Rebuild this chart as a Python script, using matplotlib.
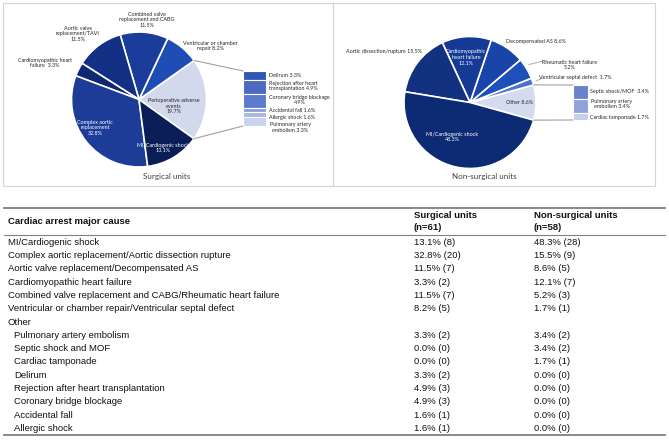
import matplotlib
matplotlib.use("Agg")
import matplotlib.pyplot as plt
from matplotlib.patches import ConnectionPatch, Rectangle
import numpy as np

W, H = 669, 442

# ---- surgical units pie (counterclockwise, starting with the "other" slice)
surg_names = ["Perioperative adverse\nevents\n", "Ventricular or chamber\nrepair ",
              "Combined valve\nreplacement and CABG\n", "Aortic valve\nreplacement/TAVI\n",
              "Cardiomyopathic heart\nfailure  ", "Complex aortic\nreplacement\n",
              "MI/Cardiogenic shock\n"]
surg_values = [19.7, 8.2, 11.5, 11.5, 3.3, 32.8, 13.1]
surg_colors = ["#d3d9ec", "#1f4db6", "#1a3d9c", "#132f86", "#0e2872", "#1c3c97", "#0a1d57"]

surg_other_names = ["Delirum ", "Rejection after heart\ntransplantation ",
                    "Coronary bridge blockage\n", "Accidental fall ", "Allergic shock ",
                    "Pulmonary artery\nembolism "]
surg_other_values = [3.3, 4.9, 4.9, 1.6, 1.6, 3.3]
surg_other_colors = ["#3157b3", "#4b6bc2", "#5c7bca", "#8a9fd8", "#a9b8e2", "#c9d3ee"]

# ---- non-surgical units pie
nons_names = ["Other ", "Ventricular septal defect  ", "Rheumatic heart failure\n",
              "Decompensated AS ", "Cardiomyopathic\nheart failure\n",
              "Aortic dissection/rupture ", "MI/Cardiogenic shock\n"]
nons_values = [8.6, 1.7, 5.2, 8.6, 12.1, 15.5, 48.3]
nons_colors = ["#d5dbee", "#4e73cb", "#1e50bc", "#1944a8", "#153a96", "#12317f", "#0d2b74"]

nons_other_names = ["Septic shock/MOF  ", "Pulmonary artery\nembolism ", "Cardiac tamponade "]
nons_other_values = [3.4, 3.4, 1.7]
nons_other_colors = ["#6683cc", "#8fa3da", "#c4cfec"]

# ---- table
causes = ["MI/Cardiogenic shock",
          "Complex aortic replacement/Aortic dissection rupture",
          "Aortic valve replacement/Decompensated AS",
          "Cardiomyopathic heart failure",
          "Combined valve replacement and CABG/Rheumatic heart failure",
          "Ventricular or chamber repair/Ventricular septal defect",
          "Other",
          "Pulmonary artery embolism", "Septic shock and MOF", "Cardiac tamponade",
          "Delirum", "Rejection after heart transplantation", "Coronary bridge blockage",
          "Accidental fall", "Allergic shock"]
surg_pct = [13.1, 32.8, 11.5, 3.3, 11.5, 8.2, None, 3.3, 0.0, 0.0, 3.3, 4.9, 4.9, 1.6, 1.6]
surg_n = [8, 20, 7, 2, 7, 5, None, 2, 0, 0, 2, 3, 3, 1, 1]
nons_pct = [48.3, 15.5, 8.6, 12.1, 5.2, 1.7, None, 3.4, 3.4, 1.7, 0.0, 0.0, 0.0, 0.0, 0.0]
nons_n = [28, 9, 5, 7, 3, 1, None, 2, 2, 1, 0, 0, 0, 0, 0]

fig = plt.figure(figsize=(W / 100, H / 100), dpi=100)
bg = fig.add_axes([0, 0, 1, 1])
bg.set_xlim(0, W)
bg.set_ylim(H, 0)
bg.axis("off")


def px_axes(x0, y0, x1, y1):
    return fig.add_axes([x0 / W, 1 - y1 / H, (x1 - x0) / W, (y1 - y0) / H])


def pie_of_bar(center, r, values, colors, start, bar_box, bar_values, bar_colors):
    cx, cy = center
    pax = px_axes(cx - r, cy - r, cx + r, cy + r)
    wedges, _ = pax.pie(values, colors=colors, startangle=start,
                        wedgeprops=dict(edgecolor="white", linewidth=1.2))
    pax.set_xlim(-1, 1)
    pax.set_ylim(-1, 1)
    pax.axis("off")
    for w in wedges:
        w.set_clip_on(False)
    bax = px_axes(*bar_box)
    bottoms = np.concatenate([[0], np.cumsum(bar_values)[:-1]])
    bax.bar(np.zeros(len(bar_values)), bar_values, bottom=bottoms, width=1,
            color=bar_colors, edgecolor="white", linewidth=0.8)
    bax.set_xlim(-0.5, 0.5)
    bax.set_ylim(sum(bar_values), 0)
    bax.axis("off")
    w0 = wedges[0]
    for ang, yb in [(w0.theta2, 0), (w0.theta1, sum(bar_values))]:
        a = np.radians(ang)
        con = ConnectionPatch(xyA=(np.cos(a), np.sin(a)), coordsA=pax.transData,
                              xyB=(-0.5, yb), coordsB=bax.transData,
                              color="#a0a0a0", linewidth=0.8)
        fig.add_artist(con)


# panel frames
bg.add_patch(Rectangle((3, 3), 330, 183, fill=False, edgecolor="#d4d4d4", linewidth=0.8))
bg.add_patch(Rectangle((333, 3), 322, 183, fill=False, edgecolor="#d4d4d4", linewidth=0.8))

pie_of_bar((139, 99.5), 67.5, surg_values, surg_colors, -35.5,
           (243, 71, 266, 126), surg_other_values, surg_other_colors)
pie_of_bar((470, 102.5), 66, nons_values, nons_colors, -15.5,
           (573, 85, 588, 120), nons_other_values, nons_other_colors)

# overlay for the chart labels, drawn above the pies
top = fig.add_axes([0, 0, 1, 1])
top.set_xlim(0, W)
top.set_ylim(H, 0)
top.axis("off")
top.patch.set_alpha(0)

pf = dict(family="Lato", fontsize=3.9, linespacing=1.15)
dark = "#262626"

# surgical pie labels
surg_pos = [(174, 106), (210, 46), (147, 20), (78, 34), (45, 63), (95, 128), (163, 148)]
surg_txt = ["k", "k", "k", "k", "k", "w", "w"]
for name, v, (x, y), c in zip(surg_names, surg_values, surg_pos, surg_txt):
    top.text(x, y, f"{name}{v}%", ha="center", va="center", multialignment="center",
             color="white" if c == "w" else dark, **pf)

surg_bar_pos = [(269, 75.5), (269, 86), (269, 100), (269, 110.5), (269, 117), (270, 127.5)]
for i, (name, v, (x, y)) in enumerate(zip(surg_other_names, surg_other_values, surg_bar_pos)):
    ma = "center" if i in (2, 5) else "left"
    top.text(x, y, f"{name}{v}%", ha="left", va="center", multialignment=ma, color=dark, **pf)

# non-surgical pie labels
nons_pos = [(519, 102), (575, 77), (570, 65), (536, 42), (466, 57.5), (384, 51), (452, 137)]
nons_txt = ["k", "k", "k", "k", "w", "k", "w"]
for name, v, (x, y), c in zip(nons_names, nons_values, nons_pos, nons_txt):
    top.text(x, y, f"{name}{v}%", ha="center", va="center", multialignment="center",
             color="white" if c == "w" else dark, **pf)
top.plot([529, 543], [64.5, 61], color="#a0a0a0", linewidth=0.6)
top.plot([536, 543], [81, 78], color="#a0a0a0", linewidth=0.6)

nons_bar_pos = [(590, 91.5), (591, 104), (590, 117.5)]
for i, (name, v, (x, y)) in enumerate(zip(nons_other_names, nons_other_values, nons_bar_pos)):
    top.text(x, y, f"{name}{v}%", ha="left", va="center",
             multialignment="center", color=dark, **pf)

tf = dict(family="Lato", fontsize=5.8, color="#404040")
top.text(167, 177, "Surgical units", ha="center", va="center", **tf)
top.text(484, 177, "Non-surgical units", ha="center", va="center", **tf)

# ---- table
lf = dict(family=["Liberation Sans", "DejaVu Sans"], fontsize=6.8, color="#111111")
bg.plot([4, 665], [207.7, 207.7], color="#808080", linewidth=1.3)
bg.plot([4, 665], [235, 235], color="#808080", linewidth=0.8)
bg.plot([4, 665], [434.5, 434.5], color="#808080", linewidth=1.3)

bg.text(8, 221.7, "Cardiac arrest major cause", ha="left", va="center", weight="bold", **lf)
bg.text(414, 215, "Surgical units", ha="left", va="center", weight="bold", **lf)
bg.text(414, 227.7, "(n=61)", ha="left", va="center", weight="bold", **lf)
bg.text(534, 215, "Non-surgical units", ha="left", va="center", weight="bold", **lf)
bg.text(534, 227.7, "(n=58)", ha="left", va="center", weight="bold", **lf)

for i, (cause, sp, sn, np_, nn) in enumerate(zip(causes, surg_pct, surg_n, nons_pct, nons_n)):
    y = 242.3 + i * 13.3
    x = 14 if i > 6 else 8
    bg.text(x, y, cause, ha="left", va="center", **lf)
    if sp is not None:
        bg.text(414, y, f"{sp:.1f}% ({sn})", ha="left", va="center", **lf)
        bg.text(534, y, f"{np_:.1f}% ({nn})", ha="left", va="center", **lf)

fig.savefig("out.png", dpi=100)
